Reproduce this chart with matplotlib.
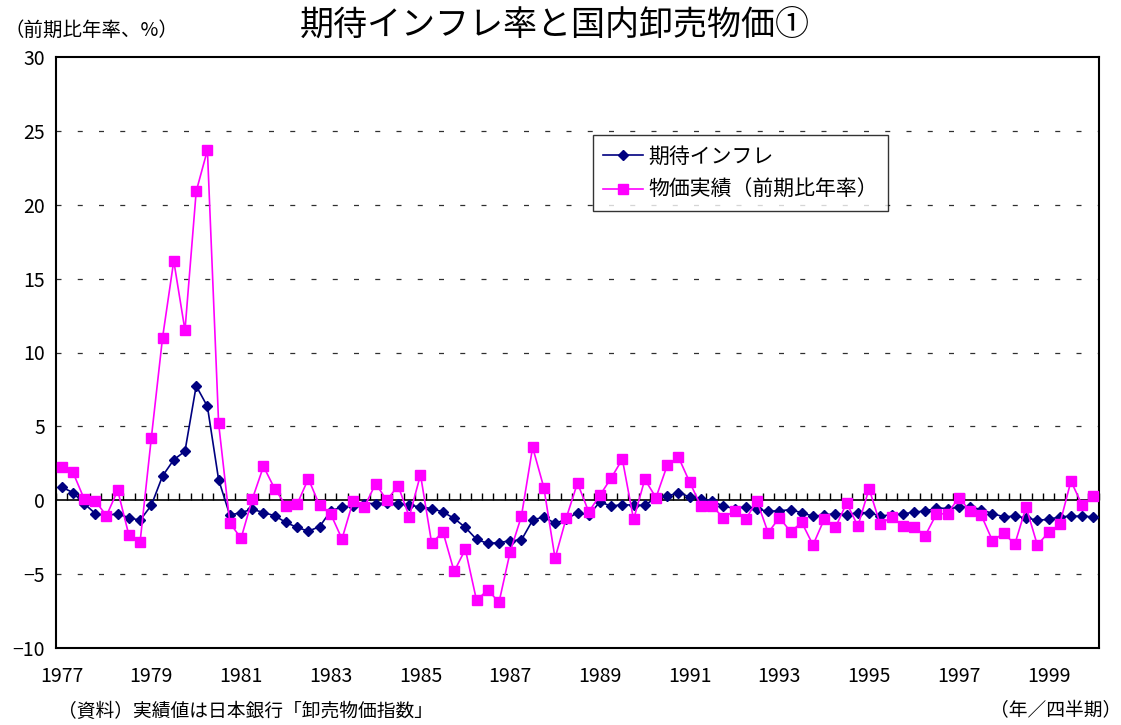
import numpy as np
import matplotlib.pyplot as plt

plt.rcParams['font.family'] = ['Noto Sans CJK JP', 'DejaVu Sans']

# 1977Q1 - 2000Q1
quarters = [f'{y}Q{q}' for y in range(1977, 2001) for q in range(1, 5)][:93]

expected = [0.9, 0.52, -0.22, -0.9, -1.05, -0.9, -1.19, -1.35, -0.34, 1.64, 2.74, 3.32,
            7.74, 6.35, 1.39, -1.01, -0.83, -0.61, -0.83, -1.05, -1.5, -1.84,
            -2.09, -1.79, -0.72, -0.45, -0.38, -0.22, -0.22, -0.18, -0.22, -0.34, -0.45,
            -0.56, -0.79, -1.23, -1.84, -2.65, -2.92, -2.87, -2.74, -2.69, -1.35, -1.12,
            -1.57, -1.28, -0.84,
            -1.01, -0.11, -0.4, -0.29, -0.34, -0.34, 0.18, 0.27, 0.52, 0.22, 0.07, -0.04,
            -0.4, -0.56, -0.45, -0.61, -0.74, -0.72, -0.63, -0.85, -1.08, -1.01, -0.9,
            -0.97, -0.85,
            -0.83, -1.08, -0.97, -0.94, -0.79, -0.74, -0.52, -0.56, -0.49, -0.45, -0.63,
            -0.9, -1.12, -1.08, -1.19, -1.35, -1.3, -1.12, -1.08, -1.08, -1.12]

actual = [2.24, 1.91, 0.11, -0.04, -1.05, 0.67, -2.36, -2.8, 4.22, 11.0, 16.2, 11.5,
          20.9, 23.7, 5.2, -1.53, -2.58, 0.07, 2.29, 0.78, -0.36, -0.27,
          1.46, -0.34, -0.94, -2.62, -0.04, -0.45, 1.12, 0.0, 0.99, -1.12, 1.73, -2.92,
          -2.13, -4.82, -3.32, -6.78, -6.06, -6.91, -3.48, -1.08, 3.59, 0.85, -3.93,
          -1.19, 1.17,
          -0.79, 0.34, 1.5, 2.78, -1.3, 1.41, 0.18, 2.36, 2.92, 1.23, -0.38, -0.38,
          -1.19, -0.72, -1.28, -0.04, -2.2, -1.17, -2.13, -1.5, -3.03, -1.28, -1.84,
          -0.18, -1.75,
          0.78, -1.64, -1.12, -1.73, -1.79, -2.4, -0.94, -0.9, 0.18, -0.72, -1.01,
          -2.74, -2.24, -2.96, -0.45, -3.03, -2.18, -1.62, 1.3, -0.34, 0.29]

year_labels = [str(y) for y in range(1977, 2000, 2)]

x = np.arange(len(quarters))

fig = plt.figure(figsize=(11.21, 7.25), dpi=100)
ax = fig.add_axes([56 / 1121, 1 - 648 / 725, 1043 / 1121, 591 / 725])

ax.plot(x, expected, color='#000080', linewidth=1.2, marker='D',
        markersize=5.5, label='期待インフレ', zorder=3)
ax.plot(x, actual, color='#FF00FF', linewidth=1.2, marker='s',
        markersize=7, label='物価実績（前期比年率）', zorder=4)

ax.set_xlim(-0.5, len(quarters) - 0.5)
ax.set_ylim(-10, 30)
ax.set_yticks(np.arange(-10, 31, 5))

# 横方向の点線グリッド
for v in [-5, 5, 10, 15, 20, 25]:
    ax.axhline(v, color='#303030', linewidth=0.9, dashes=(4, 13), zorder=1)
ax.axhline(0, color='black', linewidth=1.2, zorder=2)

# 年ラベル（奇数年の第1四半期）
ax.set_xticks([quarters.index(f'{y}Q1') for y in year_labels])
ax.set_xticklabels(year_labels)
ax.tick_params(axis='x', length=0, pad=13, labelsize=14)
ax.tick_params(axis='y', length=0, pad=8, labelsize=14)

# ゼロ線上の目盛り
sec = ax.secondary_xaxis(0.25)
sec.set_xticks(np.arange(-0.5, len(quarters), 1))
sec.tick_params(axis='x', direction='in', length=5, width=1, labelbottom=False)
sec.spines['bottom'].set_visible(False)

for s in ax.spines.values():
    s.set_linewidth(1.5)
    s.set_color('black')

leg = ax.legend(loc='upper left', bbox_to_anchor=(593 / 1121, 1 - 135 / 725),
                bbox_transform=fig.transFigure, borderaxespad=0, fancybox=False,
                edgecolor='black', fontsize=15, handlelength=1.9,
                handletextpad=0.25, labelspacing=0.55, borderpad=0.5)
leg.get_frame().set_linewidth(1.0)

fig.text(555 / 1121, 1 - 25 / 725, '期待インフレ率と国内卸売物価①', fontsize=24.5,
         ha='center', va='center')
fig.text(4 / 1121, 1 - 30 / 725, '（前期比年率、%）', fontsize=14,
         ha='left', va='center')
fig.text(58 / 1121, 1 - 711 / 725, '（資料）実績値は日本銀行「卸売物価指数」', fontsize=13.5,
         ha='left', va='center')
fig.text(1121 / 1121, 1 - 711 / 725, '（年／四半期）', fontsize=13.5,
         ha='right', va='center')

fig.savefig('out.png', dpi=100)
